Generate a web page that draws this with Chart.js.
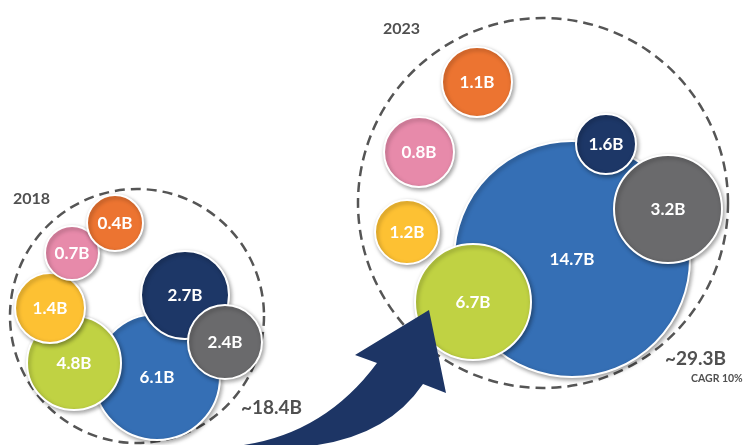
<!DOCTYPE html>
<html>
<head>
<meta charset="utf-8">
<script src="https://cdn.jsdelivr.net/npm/chart.js@4/dist/chart.umd.min.js"></script>
<style>
  html, body { margin: 0; padding: 0; background: #fff; }
  #wrap { width: 755px; height: 445px; position: relative; }
</style>
</head>
<body>
<div id="wrap"><canvas id="bubbles" width="755" height="445"></canvas></div>
<script>
// Market split, 2018 vs 2023 (segments are unnamed in the source, keyed by colour)
const segments = ['blue', 'navy', 'gray', 'green', 'yellow', 'pink', 'orange'];
const values2018 = [6.1, 2.7, 2.4, 4.8, 1.4, 0.7, 0.4];
const values2023 = [14.7, 1.6, 3.2, 6.7, 1.2, 0.8, 1.1];
const totals = { '2018': '~18.4B', '2023': '~29.3B' };
const cagr = 'CAGR 10%';

// bubble placement (packed layout)
const x2018 = [157, 185, 225, 74, 50, 72, 115];
const y2018 = [377, 295, 342, 363, 308, 253, 223];
const r2018 = [63, 44, 37, 47, 35, 27, 28];
const x2023 = [572, 606, 668, 473, 407, 419, 477];
const y2023 = [259, 144, 209, 302, 232, 152, 82];
const r2023 = [118, 30, 54, 58, 32, 35, 35];

const colors = {
    blue: '#356FB5',
    navy: '#1D3767',
    gray: '#6A6A6C',
    green: '#C0D243',
    yellow: '#FDC133',
    pink: '#E78AAA',
    orange: '#EC7431'
};

function makePoints(xs, ys, rs, vals) {
    return vals.map((v, i) => ({ x: xs[i], y: ys[i], r: rs[i], v: v }));
}

const FONT = 'Lato, "Open Sans", sans-serif';

// dashed outline round each year + arrow + text
const decorPlugin = {
    id: 'decor',
    beforeDatasetsDraw(chart) {
        const { ctx, scales: { x, y } } = chart;
        const rings = [[137, 316, 127], [543, 203, 185]];
        ctx.save();
        ctx.strokeStyle = '#555';
        ctx.lineWidth = 2.5;
        ctx.setLineDash([10, 6]);
        rings.forEach(([cx, cy, r]) => {
            ctx.beginPath();
            ctx.arc(x.getPixelForValue(cx), y.getPixelForValue(cy), r, 0, Math.PI * 2);
            ctx.stroke();
        });
        ctx.restore();
        // soft shadow for the bubbles
        ctx.save();
        ctx.shadowColor = 'rgba(0,0,0,0.35)';
        ctx.shadowBlur = 4;
        ctx.shadowOffsetX = 1.5;
        ctx.shadowOffsetY = 2;
    },
    afterDatasetsDraw(chart) {
        const { ctx } = chart;
        ctx.restore();

        // curved arrow
        ctx.save();
        ctx.fillStyle = '#1D3565';
        ctx.beginPath();
        ctx.moveTo(226, 447);
        ctx.quadraticCurveTo(320, 440, 377, 363);
        ctx.lineTo(355, 355);
        ctx.lineTo(429, 310);
        ctx.lineTo(446, 393);
        ctx.lineTo(423, 384);
        ctx.quadraticCurveTo(385, 440, 300, 447);
        ctx.closePath();
        ctx.fill();
        ctx.restore();

        // values inside bubbles
        ctx.save();
        ctx.fillStyle = '#fff';
        ctx.textAlign = 'center';
        ctx.textBaseline = 'middle';
        ctx.font = 'bold 17px ' + FONT;
        chart.data.datasets.forEach((ds, di) => {
            chart.getDatasetMeta(di).data.forEach((pt, i) => {
                ctx.fillText(ds.data[i].v + 'B', pt.x, pt.y + 1);
            });
        });

        // year titles and totals
        ctx.fillStyle = '#505050';
        ctx.textAlign = 'left';
        ctx.textBaseline = 'alphabetic';
        ctx.font = 'bold 16px ' + FONT;
        ctx.fillText('2018', 13, 204);
        ctx.fillText('2023', 383, 34);
        ctx.font = 'bold 19px ' + FONT;
        ctx.fillText(totals['2018'], 241, 414);
        ctx.fillText(totals['2023'], 665, 365);
        ctx.font = 'bold 10.5px ' + FONT;
        ctx.fillText(cagr, 691, 382);
        ctx.restore();
    }
};

new Chart(document.getElementById('bubbles'), {
    type: 'bubble',
    data: {
        datasets: [
            {
                label: '2023',
                data: makePoints(x2023, y2023, r2023, values2023),
                backgroundColor: segments.map(s => colors[s]),
                borderColor: '#fff',
                borderWidth: 2,
                clip: false
            },
            {
                label: '2018',
                data: makePoints(x2018, y2018, r2018, values2018),
                backgroundColor: segments.map(s => colors[s]),
                borderColor: '#fff',
                borderWidth: 2,
                clip: false
            }
        ]
    },
    options: {
        responsive: false,
        animation: false,
        layout: { padding: 0, autoPadding: false },
        plugins: {
            legend: { display: false },
            tooltip: { enabled: false }
        },
        scales: {
            x: { type: 'linear', min: 0, max: 755, display: false },
            y: { type: 'linear', min: 0, max: 445, reverse: true, display: false }
        },
        elements: { point: { hoverRadius: 0 } }
    },
    plugins: [decorPlugin]
});
</script>
</body>
</html>
